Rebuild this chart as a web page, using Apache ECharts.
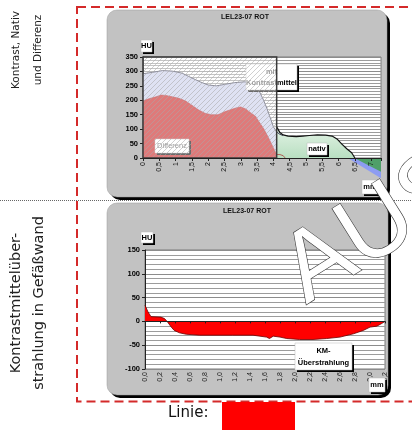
<!DOCTYPE html>
<html>
<head>
<meta charset="utf-8">
<script src="https://cdn.jsdelivr.net/npm/echarts@6/dist/echarts.min.js"></script>
<style>
html,body{margin:0;padding:0;background:#fff}
#c{width:412px;height:430px}
</style>
</head>
<body>
<div id="c"></div>
<script>
// Profile across the vessel wall, HU over mm
// Upper diagram: contrast-enhanced, native and difference
const kontrast = [[0,292],[0.3,297],[0.6,303],[0.9,301],[1.2,294],[1.45,280],[1.75,264],[2.0,253],[2.25,250],[2.5,255],[2.8,261],[3.1,264],[3.3,262],[3.45,250],[3.55,235],[3.7,200],[3.8,172],[3.9,140],[4.0,108],[4.1,90],[4.2,82],[4.3,78]];
const differenz = [[0,198],[0.2,206],[0.4,212],[0.55,218],[0.7,217],[0.9,212],[1.1,207],[1.3,198],[1.5,183],[1.7,167],[1.9,155],[2.1,150],[2.3,150],[2.5,160],[2.7,168],[2.9,175],[3.0,177],[3.15,170],[3.3,157],[3.45,145],[3.55,127],[3.7,102],[3.85,70],[4.0,35],[4.1,12],[4.2,12],[4.3,8],[4.36,0]];
const nativ = [[4.1,108],[4.2,88],[4.3,80],[4.45,76],[4.7,74],[4.9,76],[5.1,78],[5.35,80],[5.6,79],[5.8,76],[5.95,66],[6.1,48],[6.25,32],[6.4,18],[6.5,0]];
const kontrastAuslauf = [[6.28,0],[7.3,-70]];
const nativAuslauf = [[6.48,0],[7.3,-48]];
const vergleichsBereich = [[0,4.1]];
// Lower diagram: contrast bleeding into the vessel wall
const ueberstrahlung = [[0,34],[0.04,20],[0.08,10],[0.21,9],[0.26,6],[0.3,-1],[0.35,-12],[0.39,-19],[0.46,-24],[0.55,-27],[0.73,-29],[1.17,-29],[1.44,-29],[1.62,-33],[1.66,-36],[1.71,-31],[1.8,-33],[1.89,-36],[2.06,-38],[2.24,-38],[2.42,-36],[2.6,-33],[2.78,-26],[2.91,-19],[3.0,-12],[3.09,-10],[3.15,-5],[3.2,0]];

const titel = 'LEL23-07 ROT';
const einheitY = 'HU';
const einheitX = 'mm';

function schraffur(bg, line) {
  const c = document.createElement('canvas');
  c.width = 5; c.height = 5;
  const g = c.getContext('2d');
  g.fillStyle = bg; g.fillRect(0, 0, 5, 5);
  g.strokeStyle = line; g.lineWidth = 1;
  g.beginPath();
  g.moveTo(-1, 6); g.lineTo(6, -1);
  g.moveTo(-1, 1); g.lineTo(1, -1);
  g.moveTo(4, 6); g.lineTo(6, 4);
  g.stroke();
  return { image: c, repeat: 'repeat' };
}
const schleier = schraffur('rgba(255,255,255,0.42)', 'rgba(170,170,170,0.55)');

const komma = v => String(Math.round(v * 10) / 10).replace('.', ',');
const fontSmall = '"Liberation Sans", Arial, sans-serif';

function box(x, y, w, h, text, z, opts) {
  opts = opts || {};
  return [
    { type: 'rect', z: z, shape: { x: x + 2, y: y + 2, width: w, height: h }, style: { fill: '#000' } },
    { type: 'rect', z: z, shape: { x: x, y: y, width: w, height: h }, style: { fill: '#fff', stroke: '#bbb', lineWidth: 0.5 } },
    { type: 'text', z: z, x: x + w / 2, y: y + h / 2, style: { text: text, font: (opts.weight || 'bold') + ' 7.5px ' + fontSmall, fill: opts.color || '#000', align: 'center', verticalAlign: 'middle', lineHeight: opts.lh || 10, rich: opts.rich } }
  ];
}

const yAxisCommon = {
  axisLine: { show: true, lineStyle: { color: '#222', width: 1 } },
  axisTick: { show: true, length: 3, lineStyle: { color: '#222' } },
  axisLabel: { color: '#000', fontFamily: fontSmall, fontWeight: 'bold', fontSize: 7.5, margin: 5 },
  splitLine: { show: true, lineStyle: { color: '#8c8c8c', width: 1 } },
  minorTick: { show: false, splitNumber: 5 },
  minorSplitLine: { show: true, lineStyle: { color: '#9c9c9c', width: 1 } }
};

const chart = echarts.init(document.getElementById('c'), null, { renderer: 'canvas' });

const graphics = [];
// red dashed frame and divider
graphics.push({ type: 'rect', z: -10, shape: { x: 77, y: 7, width: 400, height: 394.5 }, style: { fill: 'none', stroke: '#d42a2a', lineWidth: 2, lineDash: [9, 5] } });
graphics.push({ type: 'line', z: -10, shape: { x1: 0, y1: 200.5, x2: 412, y2: 200.5 }, style: { stroke: '#666', lineWidth: 1, lineDash: [1, 1] } });
// grey panels with shadow
graphics.push({ type: 'rect', z: -6, shape: { x: 110, y: 13, width: 280, height: 187, r: 10 }, style: { fill: '#000' } });
graphics.push({ type: 'rect', z: -5, shape: { x: 107, y: 10, width: 280, height: 187, r: 10 }, style: { fill: '#c2c2c2', stroke: '#9a9a9a', lineWidth: 0.5 } });
graphics.push({ type: 'rect', z: -6, shape: { x: 110, y: 206, width: 281, height: 192, r: 10 }, style: { fill: '#000' } });
graphics.push({ type: 'rect', z: -5, shape: { x: 107, y: 203, width: 281, height: 192, r: 10 }, style: { fill: '#c2c2c2', stroke: '#9a9a9a', lineWidth: 0.5 } });
// titles
graphics.push({ type: 'text', z: 1, x: 245, y: 17.5, style: { text: titel, font: 'bold 7px ' + fontSmall, fill: '#111', align: 'center', verticalAlign: 'middle' } });
graphics.push({ type: 'text', z: 1, x: 247, y: 211, style: { text: titel, font: 'bold 7px ' + fontSmall, fill: '#111', align: 'center', verticalAlign: 'middle' } });
// side captions
graphics.push({ type: 'text', z: 1, x: 27, y: 50, rotation: Math.PI / 2, style: { text: 'Kontrast, Nativ\nund Differenz', font: '10.5px "DejaVu Sans", sans-serif', fill: '#222', align: 'center', verticalAlign: 'middle', lineHeight: 22 } });
graphics.push({ type: 'text', z: 1, x: 28, y: 303, rotation: Math.PI / 2, style: { text: 'Kontrastmittelüber-\nstrahlung in Gefäßwand', font: '14.5px "DejaVu Sans", sans-serif', fill: '#222', align: 'center', verticalAlign: 'middle', lineHeight: 23 } });
// legend line
graphics.push({ type: 'text', z: 1, x: 168, y: 421, style: { text: 'Linie:', font: '15px "DejaVu Sans", sans-serif', fill: '#111', align: 'left', verticalAlign: 'bottom' } });
graphics.push({ type: 'rect', z: 1, shape: { x: 222, y: 402, width: 73, height: 28 }, style: { fill: '#ff0000' } });
// annotation boxes, upper diagram
graphics.push(...box(246, 64, 51, 26, '{g|mit}\n{g|Kontrast}{b|mittel}', 3, { lh: 11, rich: { g: { fill: '#555', font: 'bold 7.5px ' + fontSmall }, b: { fill: '#000', font: 'bold 7.5px ' + fontSmall } } }));
graphics.push(...box(155, 139, 34, 14, 'Differenz', 3, { weight: 'normal', color: '#555' }));
graphics.push(...box(307, 143, 20, 12, 'nativ', 10));
graphics.push(...box(141, 40, 11, 12, einheitY, 10));
graphics.push(...box(362, 180, 16, 14, einheitX, 10));
// annotation boxes, lower diagram
graphics.push(...box(141, 232, 12, 11, einheitY, 10));
graphics.push(...box(369, 378, 16, 14, einheitX, 10));
graphics.push(...box(295, 343, 57, 27, 'KM-\nÜberstrahlung', 10, { lh: 12 }));
// stamp
graphics.push({ type: 'text', z: 20, x: 318, y: 323, rotation: 0.56, style: { text: 'AUSZUG', font: 'normal 98px "Liberation Sans", Arial, sans-serif', fill: '#fff', stroke: '#333', lineWidth: 1.2, align: 'left', verticalAlign: 'bottom' } });

const option = {
  animation: false,
  backgroundColor: '#fff',
  grid: [
    { left: 143, right: 31, top: 57, height: 101, show: true, backgroundColor: '#fff', borderColor: '#7a7a7a', borderWidth: 1 },
    { left: 145, right: 27, top: 250, height: 119, show: true, backgroundColor: '#fff', borderColor: '#7a7a7a', borderWidth: 1 }
  ],
  xAxis: [
    { type: 'value', gridIndex: 0, min: 0, max: 7.3, interval: 0.5, z: 6,
      axisLine: { lineStyle: { color: '#222' } },
      axisTick: { length: 3, lineStyle: { color: '#222' } },
      axisLabel: { rotate: 90, fontSize: 7, fontFamily: fontSmall, color: '#111', margin: 4,
        formatter: v => (Math.abs(v * 2 - Math.round(v * 2)) < 1e-6 ? komma(v) : '') },
      splitLine: { show: false } },
    { type: 'value', gridIndex: 1, min: 0, max: 3.2, interval: 0.2, z: 6,
      axisLine: { onZero: true, lineStyle: { color: '#222' } },
      axisTick: { length: 2, lineStyle: { color: '#222' } },
      axisLabel: { rotate: 90, fontSize: 7, fontFamily: fontSmall, color: '#222', margin: 3,
        formatter: v => v.toFixed(1).replace('.', ',') },
      splitLine: { show: false } }
  ],
  yAxis: [
    Object.assign({ type: 'value', gridIndex: 0, min: 0, max: 350, interval: 50 }, yAxisCommon),
    Object.assign({ type: 'value', gridIndex: 1, min: -100, max: 150, interval: 50 }, yAxisCommon)
  ],
  series: [
    { name: 'Kontrastmittel-Auslauf', type: 'line', xAxisIndex: 0, yAxisIndex: 0, data: kontrastAuslauf, clip: false,
      showSymbol: false, lineStyle: { width: 0 }, areaStyle: { color: '#8d9cf2', opacity: 1 }, z: 2 },
    { name: 'nativ-Auslauf', type: 'line', xAxisIndex: 0, yAxisIndex: 0, data: nativAuslauf, clip: false,
      showSymbol: false, lineStyle: { width: 0 }, areaStyle: { color: '#4f9f68', opacity: 1 }, z: 2 },
    { name: 'mit Kontrastmittel', type: 'line', xAxisIndex: 0, yAxisIndex: 0, data: kontrast,
      showSymbol: false, lineStyle: { color: '#3e4058', width: 1 }, areaStyle: { color: '#c9cdea', opacity: 1 }, z: 2 },
    { name: 'Differenz', type: 'line', xAxisIndex: 0, yAxisIndex: 0, data: differenz,
      showSymbol: false, lineStyle: { color: '#a80e0e', width: 0.6 }, areaStyle: { color: '#c91a1a', opacity: 1 }, z: 2 },
    { name: 'nativ', type: 'line', xAxisIndex: 0, yAxisIndex: 0, data: nativ,
      showSymbol: false, lineStyle: { color: '#111', width: 1.2 },
      areaStyle: { opacity: 1, color: new echarts.graphic.LinearGradient(0, 0, 0, 1, [{ offset: 0, color: '#e4f3e6' }, { offset: 1, color: '#b8dfc1' }]) }, z: 2 },
    { name: 'Bereich', type: 'custom', xAxisIndex: 0, yAxisIndex: 0, data: vergleichsBereich, z: 4, silent: true, clip: false,
      renderItem: (params, api) => {
        const a = api.coord([api.value(0), 350]);
        const b = api.coord([api.value(1), 0]);
        return { type: 'rect', shape: { x: a[0], y: a[1], width: b[0] - a[0], height: b[1] - a[1] },
          style: { fill: schleier, stroke: '#3a3a3a', lineWidth: 1.5 } };
      } },
    { name: 'KM-Überstrahlung', type: 'line', xAxisIndex: 1, yAxisIndex: 1, data: ueberstrahlung,
      showSymbol: false, lineStyle: { color: '#6a0000', width: 0.8 }, areaStyle: { color: '#ff0000', opacity: 1 }, z: 2 }
  ],
  graphic: { elements: graphics }
};
chart.setOption(option);
</script>
</body>
</html>
